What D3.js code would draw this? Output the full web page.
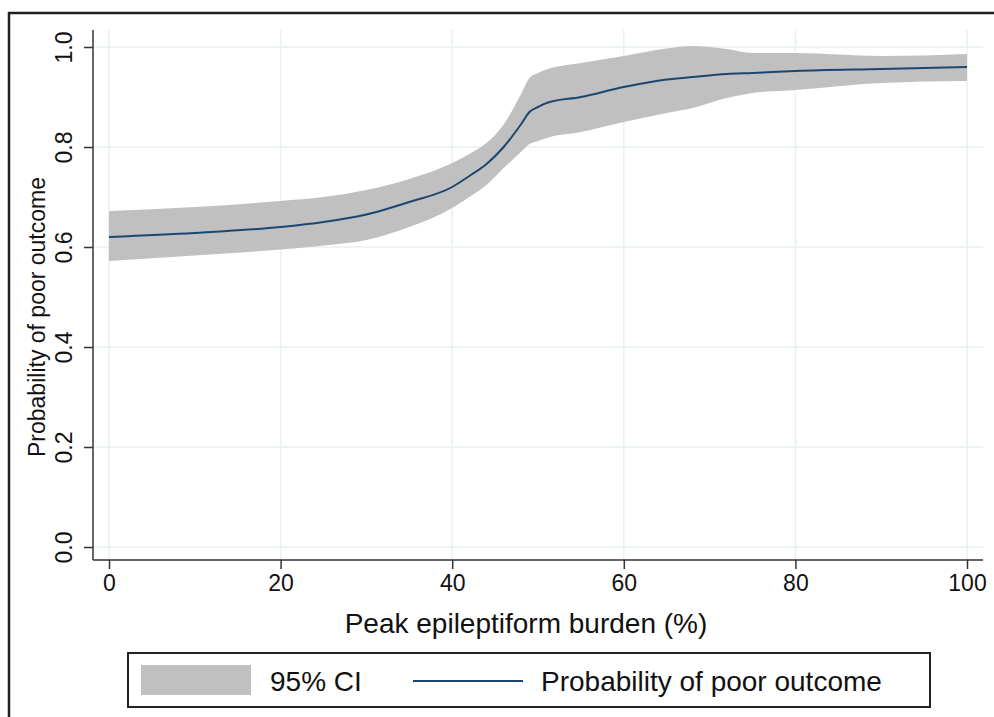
<!DOCTYPE html>
<html>
<head>
<meta charset="utf-8">
<script src="https://cdn.jsdelivr.net/npm/d3@7"></script>
<style>
    body { margin: 0; background: #fff; }
    #chart { width: 994px; height: 717px; }
    text { font-family: "Liberation Sans", Arial, sans-serif; fill: #111; }
</style>
</head>
<body>
<div id="chart"></div>
<script>
// peak epileptiform burden (%)
const burden   = [0, 10, 20, 25, 30, 35, 40, 42, 44, 46, 48, 49, 50, 51, 55, 60, 65, 68, 72, 75, 80, 90, 100];
// predicted probability of poor outcome
const probPoor = [0.620, 0.628, 0.640, 0.650, 0.665, 0.690, 0.720, 0.742, 0.766, 0.800, 0.845, 0.870, 0.880, 0.888, 0.900, 0.920, 0.935, 0.940, 0.946, 0.948, 0.952, 0.956, 0.960];
// 95% CI bounds
const ciLower  = [0.572, 0.583, 0.595, 0.603, 0.614, 0.640, 0.678, 0.700, 0.724, 0.758, 0.790, 0.806, 0.812, 0.818, 0.830, 0.850, 0.868, 0.878, 0.898, 0.908, 0.914, 0.928, 0.932];
const ciUpper  = [0.672, 0.680, 0.692, 0.700, 0.714, 0.736, 0.768, 0.786, 0.808, 0.845, 0.905, 0.938, 0.948, 0.955, 0.968, 0.982, 0.997, 1.002, 0.996, 0.988, 0.988, 0.982, 0.986];

const xTicks = [0, 20, 40, 60, 80, 100];
const yTicks = [0, 0.2, 0.4, 0.6, 0.8, 1.0];
const legendLabels = ["95% CI", "Probability of poor outcome"];

function BandLineChart() {

    let self = this;

    self.initialize = function(conf) {
        self.el = document.getElementById(conf.el);
        self.graphWidth = 994;
        self.graphHeight = 717;
        self.bandColor = "#c0c0c0";
        self.lineColor = "#1a476f";
        self.gridColor = "#e8f0f1";

        self.graphData = burden.map(function(b, i) {
            return {x: b, y: probPoor[i], lo: ciLower[i], hi: ciUpper[i]};
        });

        self.xScale = d3.scaleLinear().domain([0, 100]).range([109, 967]);
        self.yScale = d3.scaleLinear().domain([0, 1]).range([547, 47]);

        self.plot = {left: 93, right: 983, top: 30, bottom: 560};
        self.render();
    }

    self.render = function() {
        self.svg = d3.select(self.el).append("svg")
                        .attr("width", self.graphWidth)
                        .attr("height", self.graphHeight);

        /*  outer frame  */
        self.svg.append("rect")
            .attr("x", 9).attr("y", 13)
            .attr("width", 1000).attr("height", 720)
            .attr("fill", "none")
            .attr("stroke", "#222")
            .attr("stroke-width", 2.5);

        self.renderGrid();
        self.renderBand();
        self.renderAxes();
        self.renderLegend();
    }

    self.renderGrid = function() {
        let p = self.plot;
        self.svg.append("g").selectAll("line.hgrid")
            .data(yTicks).enter().append("line")
            .attr("x1", p.left).attr("x2", p.right)
            .attr("y1", d => self.yScale(d)).attr("y2", d => self.yScale(d))
            .attr("stroke", self.gridColor).attr("stroke-width", 1.5);

        self.svg.append("g").selectAll("line.vgrid")
            .data(xTicks).enter().append("line")
            .attr("y1", p.top).attr("y2", p.bottom)
            .attr("x1", d => self.xScale(d)).attr("x2", d => self.xScale(d))
            .attr("stroke", self.gridColor).attr("stroke-width", 1.5);
    }

    self.renderBand = function() {
        let area = d3.area()
                    .x(d => self.xScale(d.x))
                    .y0(d => self.yScale(d.lo))
                    .y1(d => self.yScale(d.hi))
                    .curve(d3.curveMonotoneX);

        self.svg.append("path")
            .datum(self.graphData)
            .attr("d", area)
            .attr("fill", self.bandColor);

        let line = d3.line()
                    .x(d => self.xScale(d.x))
                    .y(d => self.yScale(d.y))
                    .curve(d3.curveMonotoneX);

        self.svg.append("path")
            .datum(self.graphData)
            .attr("d", line)
            .attr("fill", "none")
            .attr("stroke", self.lineColor)
            .attr("stroke-width", 2)
            .attr("stroke-linejoin", "round");
    }

    self.renderAxes = function() {
        let p = self.plot;

        let xAxis = self.svg.append("g")
                        .attr("transform", "translate(0," + p.bottom + ")")
                        .call(d3.axisBottom(self.xScale).tickValues(xTicks).tickSize(9).tickSizeOuter(0).tickPadding(6));
        xAxis.select(".domain").attr("d", "M" + p.left + ",0H" + p.right);
        xAxis.selectAll("line").attr("stroke", "#333").attr("stroke-width", 1.5);
        xAxis.select(".domain").attr("stroke", "#333").attr("stroke-width", 1.5);
        xAxis.selectAll("text")
            .attr("font-size", 23)
            .attr("fill", "#111")
            .attr("font-family", "Liberation Sans, Arial, sans-serif");

        let yAxis = self.svg.append("g")
                        .attr("transform", "translate(" + p.left + ",0)")
                        .call(d3.axisLeft(self.yScale).tickValues(yTicks).tickFormat(d3.format(".1f")).tickSize(9).tickSizeOuter(0));
        yAxis.select(".domain").attr("d", "M0," + p.top + "V" + p.bottom)
            .attr("stroke", "#333").attr("stroke-width", 1.5);
        yAxis.selectAll("line").attr("stroke", "#333").attr("stroke-width", 1.5);
        yAxis.selectAll("text")
            .attr("font-size", 23)
            .attr("fill", "#111")
            .attr("font-family", "Liberation Sans, Arial, sans-serif")
            .attr("text-anchor", "middle")
            .attr("x", 0).attr("dy", 0)
            .attr("transform", "translate(-21,0) rotate(-90)");

        self.svg.append("text")
            .attr("x", 526).attr("y", 633)
            .attr("text-anchor", "middle")
            .attr("font-size", 28)
            .text("Peak epileptiform burden (%)");

        self.svg.append("text")
            .attr("transform", "translate(45,317) rotate(-90)")
            .attr("text-anchor", "middle")
            .attr("font-size", 23)
            .text("Probability of poor outcome");
    }

    self.renderLegend = function() {
        let g = self.svg.append("g");
        g.append("rect")
            .attr("x", 128).attr("y", 653)
            .attr("width", 802).attr("height", 54)
            .attr("fill", "#fff")
            .attr("stroke", "#222").attr("stroke-width", 2);

        g.append("rect")
            .attr("x", 141).attr("y", 665)
            .attr("width", 110).attr("height", 30)
            .attr("fill", self.bandColor);

        g.append("text")
            .attr("x", 270).attr("y", 691)
            .attr("font-size", 28)
            .text(legendLabels[0]);

        g.append("line")
            .attr("x1", 413).attr("x2", 523)
            .attr("y1", 681).attr("y2", 681)
            .attr("stroke", self.lineColor).attr("stroke-width", 2);

        g.append("text")
            .attr("x", 541).attr("y", 691)
            .attr("font-size", 28)
            .text(legendLabels[1]);
    }
}

let chart = new BandLineChart();
chart.initialize({el: "chart"});
</script>
</body>
</html>
